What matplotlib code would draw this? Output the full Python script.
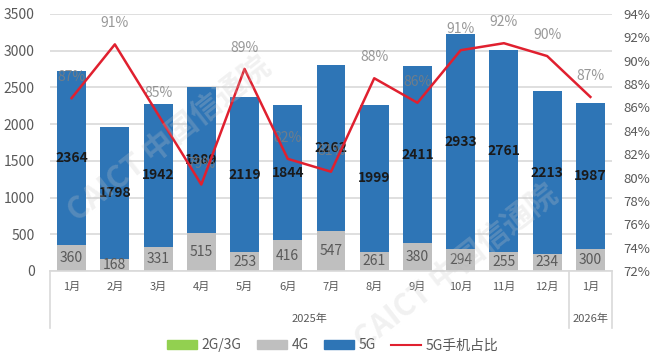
import matplotlib
matplotlib.use('Agg')
import matplotlib.pyplot as plt
import numpy as np
from matplotlib.patches import Patch
from matplotlib.lines import Line2D

plt.rcParams['font.family'] = ['Noto Sans CJK SC', 'DejaVu Sans']

# ── Data ──────────────────────────────────────────────────────────────────────
months   = ['1月', '2月', '3月', '4月', '5月', '6月', '7月', '8月', '9月',
            '10月', '11月', '12月', '1月']
years    = ['2025年', '2026年']
year_len = [12, 1]
g23      = [0, 0, 0, 0, 0, 0, 0, 0, 0, 0, 0, 0, 0]
g4       = [360, 168, 331, 515, 253, 416, 547, 261, 380, 294, 255, 234, 300]
g5       = [2364, 1798, 1942, 1989, 2119, 1844, 2262, 1999, 2411, 2933, 2761, 2213, 1987]
share    = [86.8, 91.4, 85.4, 79.4, 89.3, 81.6, 80.5, 88.5, 86.4, 90.9, 91.5, 90.4, 86.9]
share_lb = ['87%', '91%', '85%', '79%', '89%', '82%', '81%', '88%', '86%',
            '91%', '92%', '90%', '87%']

# ── Style ─────────────────────────────────────────────────────────────────────
C_GREEN = '#92D050'
C_GRAY  = '#BFBFBF'
C_BLUE  = '#2E75B6'
C_RED   = '#E0202F'
C_TICK  = '#595959'
C_GRID  = '#D9D9D9'

fig = plt.figure(figsize=(6.52, 3.56), dpi=100, facecolor='white')
ax = fig.add_axes([50/652, 1 - 271/356, 562/652, 257/356])
x = np.arange(len(months))
w = 0.67

ax.bar(x, g4, w, color=C_GRAY, zorder=2)
ax.bar(x, g5, w, bottom=g4, color=C_BLUE, zorder=2)
ax.bar(x, g23, w, bottom=np.array(g4) + np.array(g5), color=C_GREEN, zorder=2)

for xi, a, b in zip(x, g4, g5):
    ax.text(xi, a / 2, f'{a}', ha='center', va='center', fontsize=10,
            color=C_TICK, zorder=5)
    ax.text(xi, a + b / 2, f'{b}', ha='center', va='center', fontsize=10,
            fontweight='bold', color='#1A1A1A', zorder=5)

ax.set_xlim(-0.5, len(months) - 0.5)
ax.set_ylim(0, 3500)
ax.set_yticks(range(0, 3501, 500))
ax.yaxis.grid(True, color=C_GRID, lw=1.2, zorder=0)
ax.set_axisbelow(True)
ax.tick_params(axis='y', length=0, labelsize=10, labelcolor=C_TICK, pad=11)
ax.set_xticks(x)
ax.set_xticklabels(months, fontsize=8, color=C_TICK)
ax.tick_params(axis='x', length=0, pad=8)
for s in ['top', 'right', 'left']:
    ax.spines[s].set_visible(False)
ax.spines['bottom'].set_color(C_GRID)
ax.spines['bottom'].set_linewidth(1.2)

# group separators and year labels
trans = ax.get_xaxis_transform()
edges = np.concatenate([[0], np.cumsum(year_len)]) - 0.5
for e in edges:
    ax.plot([e, e], [0, -0.22], transform=trans, color=C_GRID, lw=1.2,
            clip_on=False)
for i, yl in enumerate(years):
    ax.text((edges[i] + edges[i + 1]) / 2, -0.185, yl, transform=trans,
            ha='center', va='center', fontsize=8, color=C_TICK)

# share line on right axis
ax2 = ax.twinx()
ax2.plot(x, share, color=C_RED, lw=1.8, zorder=4)
ax2.set_ylim(72, 94)
ax2.set_yticks(range(72, 95, 2))
ax2.set_yticklabels([f'{v}%' for v in range(72, 95, 2)])
ax2.tick_params(axis='y', length=0, labelsize=9.5, labelcolor=C_TICK, pad=8)
for s in ['top', 'right', 'left', 'bottom']:
    ax2.spines[s].set_visible(False)
for xi, v, lb in zip(x, share, share_lb):
    ax2.text(xi, v + 1.2, lb, ha='center', va='bottom', fontsize=10,
             color='#7F7F7F', alpha=0.8, zorder=3)

# watermark
for wx, wy in [(0.26, 0.61), (0.70, 0.25)]:
    fig.text(wx, wy, 'CAICT 中国信通院', rotation=38, fontsize=22,
             fontweight='bold', color='#C8C8C8', alpha=0.25,
             ha='center', va='center')

handles = [Patch(color=C_GREEN), Patch(color=C_GRAY), Patch(color=C_BLUE),
           Line2D([], [], color=C_RED, lw=1.5)]
fig.legend(handles, ['2G/3G', '4G', '5G', '5G手机占比'], loc='center',
           bbox_to_anchor=(0.51, 0.03), ncol=4, frameon=False, fontsize=10,
           handlelength=2.2, handleheight=0.6, columnspacing=1.1,
           handletextpad=0.3, labelcolor=C_TICK)

fig.savefig('out.png', dpi=100)
